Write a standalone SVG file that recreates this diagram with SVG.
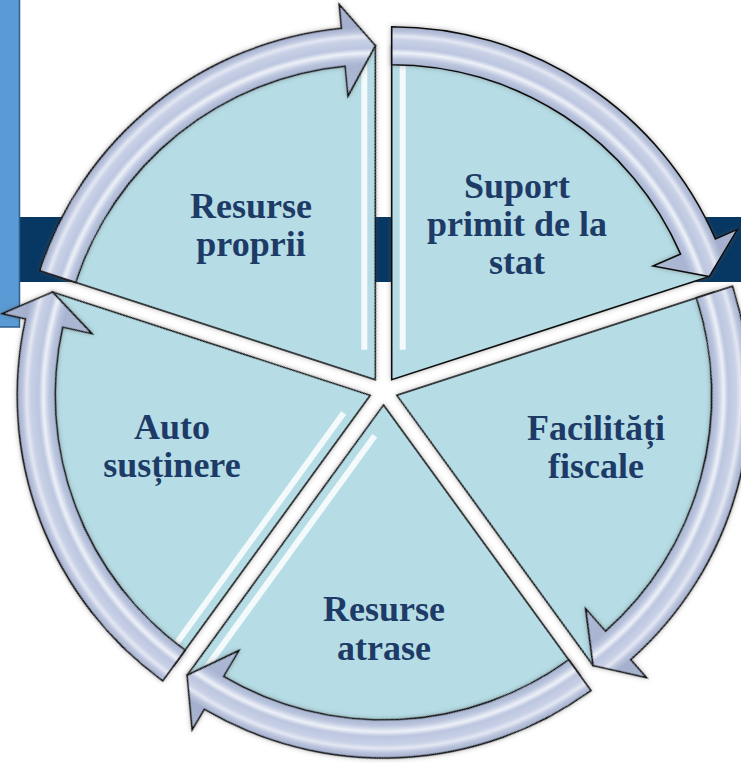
<svg xmlns="http://www.w3.org/2000/svg" xmlns:xlink="http://www.w3.org/1999/xlink" width="741" height="763" viewBox="0 0 741 763">
  <style>
    .wedge { fill: #b6dde6; stroke: #111; stroke-width: 1.6; stroke-linejoin: miter; }
    .arrow { fill: url(#arrowGrad); stroke: #111; stroke-width: 1.6; stroke-linejoin: miter; }
    .stripe { stroke: #ffffff; stroke-width: 6; stroke-opacity: 0.85; fill: none; }
    .lbl { font-family: "Liberation Serif", "Times New Roman", serif; font-weight: bold; font-size: 36px; fill: #1d3b66; text-anchor: middle; }
  </style>
  <defs>
    <radialGradient id="arrowGrad" gradientUnits="userSpaceOnUse" cx="0" cy="0" r="380">
      <stop offset="0.75" stop-color="#aeb9d5"/>
      <stop offset="0.829" stop-color="#a8b4d1"/>
      <stop offset="0.845" stop-color="#bcc6df"/>
      <stop offset="0.86" stop-color="#eef1f8"/>
      <stop offset="0.872" stop-color="#bcc6df"/>
      <stop offset="0.893" stop-color="#c8d0e6"/>
      <stop offset="0.904" stop-color="#e4e8f3"/>
      <stop offset="0.915" stop-color="#bcc5de"/>
      <stop offset="0.929" stop-color="#a3afcc"/>
      <stop offset="0.992" stop-color="#abb6d2"/>
    </radialGradient>
    <filter id="shadow" x="-10%" y="-10%" width="120%" height="120%">
      <feDropShadow dx="0" dy="0" stdDeviation="2.5" flood-color="#555" flood-opacity="0.45"/>
    </filter>
    <path id="wedge" class="wedge" d="M0 0 L0 -334 A334 334 0 0 1 317.65 -103.21 Z"/>
    <path id="arrow" class="arrow" d="M0 -353 A353 353 0 0 1 323.72 -140.76 L345.73 -150.33 L317.65 -103.21 L261.36 -113.64 L288.87 -125.61 A315 315 0 0 0 0 -315 Z"/>
    <line id="stripeS" class="stripe" x1="11" y1="-30" x2="11" y2="-315"/>
    <line id="stripeE" class="stripe" x1="25.13" y1="-19.73" x2="296.18" y2="-107.80"/>
  </defs>

  <g id="background">
    <rect x="20" y="217" width="721" height="65" fill="#073763"/>
    <rect x="-2" y="-2" width="21.5" height="329" fill="#5b9bd5" stroke="#2f5f8f" stroke-width="1.5"/>
  </g>

  <g id="node-resurse-proprii">
    <use xlink:href="#wedge" transform="translate(375.3 379.7) rotate(288)" filter="url(#shadow)"/>
    <use xlink:href="#stripeE" transform="translate(375.3 379.7) rotate(288)"/>
    <use xlink:href="#arrow" transform="translate(375.3 379.7) rotate(288)" filter="url(#shadow)"/>
    <text class="lbl" x="251" y="218">Resurse</text>
    <text class="lbl" x="251" y="256">proprii</text>
  </g>

  <g id="node-suport">
    <use xlink:href="#wedge" transform="translate(391.7 379.7)" filter="url(#shadow)"/>
    <use xlink:href="#stripeS" transform="translate(391.7 379.7)"/>
    <use xlink:href="#arrow" transform="translate(391.7 379.7)" filter="url(#shadow)"/>
    <text class="lbl" x="517" y="198">Suport</text>
    <text class="lbl" x="517" y="236">primit de la</text>
    <text class="lbl" x="517" y="274">stat</text>
  </g>

  <g id="node-facilitati">
    <use xlink:href="#wedge" transform="translate(396.8 395.3) rotate(72)" filter="url(#shadow)"/>
    <use xlink:href="#arrow" transform="translate(396.8 395.3) rotate(72)" filter="url(#shadow)"/>
    <text class="lbl" x="596" y="440">Facilități</text>
    <text class="lbl" x="596" y="478">fiscale</text>
  </g>

  <g id="node-resurse-atrase">
    <use xlink:href="#wedge" transform="translate(383.5 405) rotate(144)" filter="url(#shadow)"/>
    <use xlink:href="#stripeE" transform="translate(383.5 405) rotate(144)"/>
    <use xlink:href="#arrow" transform="translate(383.5 405) rotate(144)" filter="url(#shadow)"/>
    <text class="lbl" x="384" y="621">Resurse</text>
    <text class="lbl" x="384" y="660">atrase</text>
  </g>

  <g id="node-auto">
    <use xlink:href="#wedge" transform="translate(370.2 395.3) rotate(216)" filter="url(#shadow)"/>
    <use xlink:href="#stripeS" transform="translate(370.2 395.3) rotate(216)"/>
    <use xlink:href="#arrow" transform="translate(370.2 395.3) rotate(216)" filter="url(#shadow)"/>
    <text class="lbl" x="172" y="439">Auto</text>
    <text class="lbl" x="172" y="477">susținere</text>
  </g>

  <g id="connectors"></g>
</svg>
